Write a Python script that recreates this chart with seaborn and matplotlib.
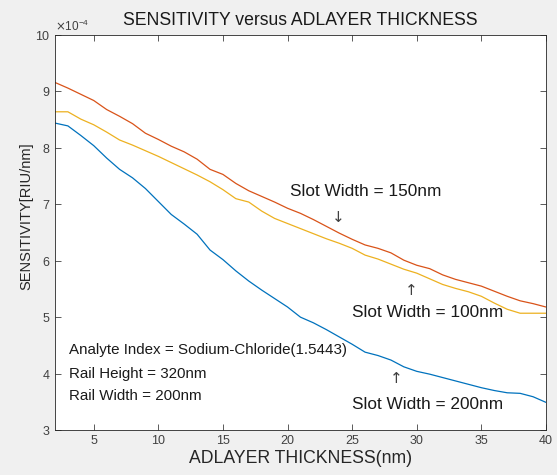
import numpy as np
import pandas as pd
import matplotlib
matplotlib.use("Agg")
import matplotlib.pyplot as plt
import seaborn as sns
from matplotlib.ticker import ScalarFormatter

thickness = list(range(2, 41))
sens_150 = [9.16, 9.06, 8.95, 8.84, 8.68, 8.56, 8.43, 8.26, 8.15, 8.03,
            7.93, 7.80, 7.62, 7.53, 7.37, 7.24, 7.14, 7.04, 6.93, 6.84,
            6.73, 6.61, 6.49, 6.38, 6.28, 6.22, 6.14, 6.01, 5.92, 5.86,
            5.75, 5.67, 5.61, 5.55, 5.46, 5.37, 5.29, 5.24, 5.18]
sens_100 = [8.64, 8.64, 8.51, 8.41, 8.28, 8.14, 8.05, 7.95, 7.85, 7.74,
            7.63, 7.52, 7.40, 7.26, 7.10, 7.04, 6.88, 6.75, 6.66, 6.57,
            6.48, 6.39, 6.31, 6.22, 6.10, 6.03, 5.94, 5.85, 5.78, 5.68,
            5.58, 5.51, 5.45, 5.37, 5.25, 5.14, 5.07, 5.07, 5.07]
sens_200 = [8.44, 8.39, 8.22, 8.04, 7.82, 7.62, 7.47, 7.28, 7.05, 6.82,
            6.65, 6.47, 6.19, 6.02, 5.82, 5.64, 5.48, 5.33, 5.18, 5.00,
            4.90, 4.78, 4.65, 4.52, 4.38, 4.32, 4.24, 4.12, 4.04, 3.99,
            3.93, 3.87, 3.81, 3.75, 3.70, 3.66, 3.65, 3.59, 3.49]
series_names = ["200nm", "150nm", "100nm"]
scale = 1e-4

df = pd.concat([
    pd.DataFrame({"x": thickness, "y": np.array(sens_200) * scale, "s": "200nm"}),
    pd.DataFrame({"x": thickness, "y": np.array(sens_150) * scale, "s": "150nm"}),
    pd.DataFrame({"x": thickness, "y": np.array(sens_100) * scale, "s": "100nm"}),
])

sns.set_style("ticks")
plt.rcParams["font.family"] = ["Liberation Sans", "DejaVu Sans"]

fig = plt.figure(figsize=(5.57, 4.75), dpi=100, facecolor="#f0f0f0")
ax = fig.add_axes([0.0987, 0.0947, 0.8815, 0.8315])
ax.set_facecolor("white")

palette = {"200nm": "#0072BD", "150nm": "#D95319", "100nm": "#EDB120"}
sns.lineplot(data=df, x="x", y="y", hue="s", palette=palette, linewidth=0.9,
             legend=False, ax=ax, hue_order=series_names)

ax.set_xlim(2, 40)
ax.set_ylim(3e-4, 10e-4)
ax.set_xticks([5, 10, 15, 20, 25, 30, 35, 40])
ax.set_yticks(np.arange(3, 11) * scale)
fmt = ScalarFormatter(useMathText=True)
fmt.set_powerlimits((-4, -4))
ax.yaxis.set_major_formatter(fmt)
ax.yaxis.get_offset_text().set_fontsize(8.5)
ax.yaxis.get_offset_text().set_color("#404040")

tc = "#404040"
ax.tick_params(direction="in", top=True, right=True, length=4, width=0.6,
               colors=tc, labelsize=9, labelcolor=tc)
for sp in ax.spines.values():
    sp.set_color("#262626")
    sp.set_linewidth(0.6)
    sp.set_visible(True)

ax.set_title("SENSITIVITY versus ADLAYER THICKNESS", fontsize=12.7, color="#1a1a1a", pad=7)
ax.set_xlabel("ADLAYER THICKNESS(nm)", fontsize=12.7, color="#262626", labelpad=2)
ax.set_ylabel("SENSITIVITY[RIU/nm]", fontsize=10.5, color="#262626")
ax.yaxis.set_label_coords(-0.045, 0.542)

tk = "#1a1a1a"
ax.text(20.2, 7.22e-4, "Slot Width = 150nm", fontsize=12.4, color=tk, va="center")
ax.text(23.9, 6.76e-4, "\u2193", fontsize=11, color="#404040", ha="center", va="center", family="DejaVu Sans")
ax.text(25.0, 5.09e-4, "Slot Width = 100nm", fontsize=12.4, color=tk, va="center")
ax.text(29.6, 5.48e-4, "\u2191", fontsize=11, color="#404040", ha="center", va="center", family="DejaVu Sans")
ax.text(25.0, 3.46e-4, "Slot Width = 200nm", fontsize=12.4, color=tk, va="center")
ax.text(28.4, 3.92e-4, "\u2191", fontsize=11, color="#404040", ha="center", va="center", family="DejaVu Sans")
ax.text(3.05, 4.41e-4, "Analyte Index = Sodium-Chloride(1.5443)", fontsize=10.9, color=tk, va="center")
ax.text(3.05, 4.00e-4, "Rail Height = 320nm", fontsize=10.9, color=tk, va="center")
ax.text(3.05, 3.60e-4, "Rail Width = 200nm", fontsize=10.9, color=tk, va="center")

fig.savefig("out.png", dpi=100, facecolor=fig.get_facecolor())
